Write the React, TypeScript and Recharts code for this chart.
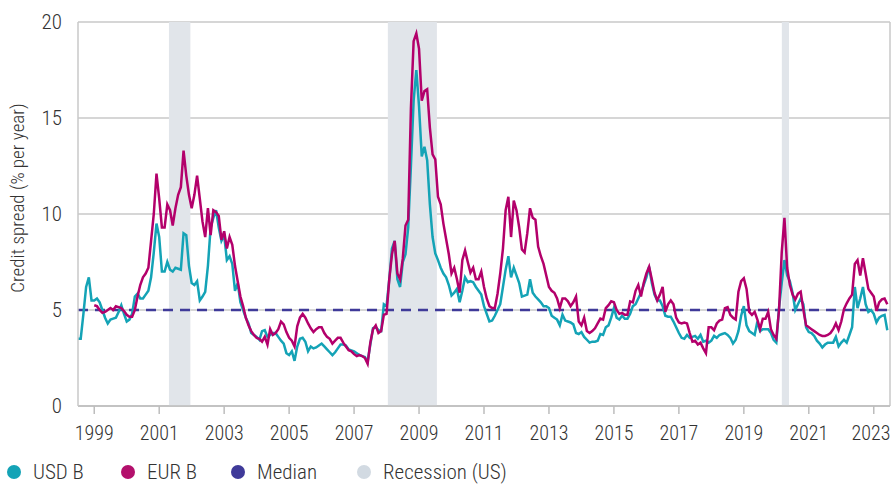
import { LineChart, Line, XAxis, YAxis, CartesianGrid, ReferenceArea, ReferenceLine } from 'recharts';

const FONT = "'Roboto Condensed', Roboto, 'Noto Sans', sans-serif";

// monthly, starting Jul 1998
const usdB = [
  3.5, 3.5, 4.8, 6.2, 6.7, 5.5,
  5.5, 5.6, 5.4, 5.0, 4.6, 4.3, 4.5, 4.55, 4.6, 4.9, 5.25, 4.8,
  4.4, 4.5, 4.8, 5.7, 5.85, 5.6, 5.6, 5.8, 6.0, 6.7, 8.0, 9.5,
  8.8, 7.0, 7.0, 7.5, 7.1, 7.0, 7.2, 7.15, 7.1, 9.0, 8.9, 7.3,
  6.4, 6.3, 6.5, 5.5, 5.7, 5.95, 7.3, 9.3, 9.8, 10.2, 9.3, 8.6,
  8.9, 7.6, 7.8, 7.4, 6.0, 6.4, 5.4, 5.0, 4.6, 4.3, 3.8, 3.7,
  3.6, 3.45, 3.9, 3.95, 3.6, 3.7, 3.8, 3.8, 3.6, 3.4, 3.25, 2.75,
  2.65, 2.85, 2.35, 3.1, 3.5, 3.55, 3.35, 2.85, 3.1, 3.0, 3.05, 3.15,
  3.25, 3.1, 2.95, 2.8, 2.65, 2.8, 3.0, 3.2, 3.2, 3.15, 2.95, 2.9,
  2.85, 2.75, 2.65, 2.6, 2.55, 2.3, 3.2, 4.05, 4.1, 3.95, 3.9, 5.3,
  5.2, 6.6, 8.2, 8.6, 6.6, 6.2, 7.5, 7.9, 9.3, 12.5, 15.9, 17.5,
  15.6, 13.0, 13.5, 12.8, 10.5, 8.8, 7.95, 7.6, 7.2, 6.9, 6.7, 6.3,
  5.75, 5.9, 6.1, 5.4, 6.0, 6.7, 6.45, 6.5, 6.45, 6.2, 6.0, 5.8,
  5.2, 4.8, 4.4, 4.45, 4.7, 5.0, 5.3, 6.2, 7.1, 7.8, 6.7, 7.2,
  6.8, 6.4, 5.7, 5.75, 5.8, 6.6, 5.9, 5.7, 5.55, 5.4, 5.2, 5.2,
  5.1, 4.7, 4.6, 4.5, 4.2, 4.75, 4.45, 4.4, 4.35, 4.25, 3.8, 3.75,
  3.85, 3.6, 3.45, 3.3, 3.35, 3.35, 3.4, 3.75, 3.7, 4.1, 4.2, 4.6,
  5.1, 4.6, 4.5, 4.7, 4.55, 4.55, 4.8, 5.2, 5.3, 5.6, 5.9, 6.3,
  6.7, 7.25, 6.4, 5.8, 5.5, 5.5, 5.2, 4.7, 4.65, 4.65, 4.4, 4.1,
  3.8, 3.55, 3.5, 3.7, 3.55, 3.6, 3.65, 3.5, 3.7, 3.35, 3.4, 3.3,
  3.4, 3.65, 3.55, 3.7, 3.75, 3.8, 3.7, 3.55, 3.25, 3.45, 3.9, 4.7,
  5.2, 4.2, 3.9, 3.8, 3.7, 4.4, 3.9, 4.0, 4.0, 4.0, 3.8, 3.45,
  3.3, 5.1, 6.4, 7.6, 6.8, 6.5, 5.9, 5.0, 5.3, 5.6, 5.3, 4.1,
  3.85, 3.8, 3.65, 3.4, 3.25, 3.05, 3.2, 3.3, 3.3, 3.3, 3.6, 3.1,
  3.3, 3.45, 3.3, 3.7, 4.1, 6.2, 5.1, 5.6, 6.2, 5.3, 4.9, 5.0,
  4.8, 4.35, 4.6, 4.7, 4.75, 3.95,
];

// monthly, starting Jan 1999
const eurB = [
  5.25, 5.2, 5.0, 4.85, 4.9, 5.0, 5.1, 5.0, 5.2, 5.15, 5.1, 4.95,
  4.75, 4.65, 4.65, 5.0, 5.7, 6.3, 6.7, 6.9, 7.2, 8.6, 10.0, 12.1,
  10.8, 9.3, 9.3, 10.5, 10.2, 9.4, 10.3, 11.0, 11.4, 13.3, 12.0, 11.0,
  10.3, 11.0, 12.0, 10.8, 9.6, 8.8, 10.3, 8.9, 10.2, 10.1, 9.9, 8.65,
  9.1, 8.2, 8.8, 8.4, 7.3, 6.5, 5.7, 5.2, 4.6, 4.2, 3.9, 3.7,
  3.55, 3.5, 3.35, 3.6, 3.2, 4.0, 3.7, 3.8, 4.0, 4.4, 4.25, 3.85,
  3.55, 3.4, 3.1, 4.15, 4.6, 4.8, 4.6, 4.3, 4.05, 3.85, 4.0, 4.1,
  4.1, 3.8, 3.6, 3.5, 3.25, 3.4, 3.55, 3.55, 3.3, 3.1, 2.9, 2.85,
  2.7, 2.6, 2.65, 2.6, 2.5, 2.2, 3.3, 4.0, 4.2, 3.8, 3.9, 4.75,
  4.8, 6.6, 7.9, 8.6, 6.9, 6.6, 7.7, 9.4, 9.7, 15.5, 19.0, 19.4,
  18.6, 15.9, 16.4, 16.5, 14.5, 13.1, 12.85, 10.9, 10.5, 9.5, 8.7, 7.9,
  6.9, 7.2, 6.6, 5.9, 7.6, 8.1, 7.5, 6.95, 7.2, 6.6, 6.6, 7.0,
  6.2, 5.6, 5.2, 5.1, 5.1, 5.85, 6.9, 8.2, 10.2, 10.9, 8.8, 10.7,
  10.2, 9.3, 8.15, 8.0, 9.0, 10.3, 9.8, 9.7, 8.3, 7.8, 7.4, 6.8,
  6.2, 6.0, 5.9, 5.6, 5.1, 5.6, 5.6, 5.45, 5.2, 5.4, 5.7, 4.4,
  4.2, 4.6, 3.9, 3.8, 3.9, 4.05, 4.3, 4.55, 4.5, 5.1, 5.25, 5.45,
  5.4, 5.0, 4.8, 4.85, 4.75, 4.75, 5.45, 5.4, 6.0, 6.3, 5.7, 6.4,
  6.9, 7.25, 6.6, 5.9, 5.5, 5.8, 6.2, 4.9, 5.3, 5.5, 5.3, 4.6,
  4.35, 4.3, 4.35, 4.3, 3.8, 3.35, 3.4, 3.2, 3.3, 3.0, 2.75, 4.1,
  4.1, 3.95, 4.3, 4.45, 4.5, 5.1, 5.15, 4.75, 4.6, 4.5, 5.95, 6.5,
  6.65, 6.1, 4.9, 4.75, 4.9, 4.5, 4.0, 4.55, 4.55, 4.9, 4.0, 3.7,
  3.5, 5.0, 8.0, 9.8, 7.2, 6.3, 5.8, 5.55, 5.85, 5.95, 5.0, 4.2,
  4.1, 4.0, 3.9, 3.8, 3.7, 3.65, 3.65, 3.7, 3.8, 4.0, 4.3, 3.95,
  4.4, 5.05, 5.35, 5.6, 5.8, 7.4, 7.6, 6.8, 7.7, 6.9, 6.1, 5.9,
  5.7, 4.95, 5.4, 5.55, 5.6, 5.3,
];

const median = 5.0;
const recessions = [
  [2001.3, 2001.96],
  [2008.04, 2009.55],
  [2020.17, 2020.39],
];
const yearTicks = [1999, 2001, 2003, 2005, 2007, 2009, 2011, 2013, 2015, 2017, 2019, 2021, 2023];
const yTicks = [0, 5, 10, 15, 20];

const data = usdB.map((v, i) => ({
  t: 1998.5 + i / 12,
  usd: v,
  eur: i >= 6 ? eurB[i - 6] : null,
}));

const legendItems = [
  { label: 'USD B', color: '#14A3B6', left: 7 },
  { label: 'EUR B', color: '#B3106C', left: 121 },
  { label: 'Median', color: '#3F3A99', left: 231 },
  { label: 'Recession (US)', color: '#D2DAE2', left: 357 },
];

const App = () => {
  return (
    <div style={{ position: 'absolute', left: 0, top: 0, width: 891, height: 484, background: '#fff', fontFamily: FONT }}>
      <LineChart width={891} height={452} data={data} margin={{ top: 22, right: 1, bottom: 0, left: 0 }}>
        {recessions.map(([a, b]) => (
          <ReferenceArea key={a} x1={a} x2={b} y1={0} y2={20} fill="#E1E5EA" fillOpacity={1} stroke="none" ifOverflow="hidden" />
        ))}
        <CartesianGrid vertical={false} stroke="#C8C8C8" strokeWidth={1.5} />
        <XAxis
          dataKey="t"
          type="number"
          domain={[1998.5, 2023.5]}
          ticks={yearTicks}
          allowDataOverflow
          stroke="#BDBDBD"
          strokeWidth={1.5}
          tickSize={8}
          tickMargin={12}
          height={46}
          tick={{ fill: '#333', fontSize: 20, fontFamily: FONT, fontWeight: 300 }}
        />
        <YAxis
          type="number"
          domain={[0, 20]}
          ticks={yTicks}
          width={78}
          stroke="#C8C8C8"
          strokeWidth={1.5}
          tickLine={false}
          tickSize={8}
          tickMargin={8}
          tick={{ fill: '#333', fontSize: 21, fontFamily: FONT, fontWeight: 300 }}
          label={{
            content: () => (
              <text x={17} y={198} transform="rotate(-90 17 198)" textAnchor="middle" dominantBaseline="central" fill="#333" fontSize={19} fontWeight={300} fontFamily={FONT}>
                Credit spread (% per year)
              </text>
            ),
          }}
        />
        <ReferenceLine x={2023.5} stroke="#C8C8C8" strokeWidth={1.5} />
        <ReferenceLine y={median} stroke="#3F3A99" strokeWidth={2.5} strokeDasharray="10 7" />
        <Line type="linear" dataKey="usd" stroke="#14A3B6" strokeWidth={2.5} dot={false} isAnimationActive={false} />
        <Line type="linear" dataKey="eur" stroke="#B3006B" strokeWidth={2.5} dot={false} connectNulls={false} isAnimationActive={false} />
      </LineChart>
      <div style={{ position: 'absolute', top: 459, left: 0, height: 26, width: 891 }}>
        {legendItems.map((it) => (
          <div key={it.label} style={{ position: 'absolute', left: it.left, top: 0, display: 'flex', alignItems: 'center', height: 26 }}>
            <span style={{ width: 14, height: 14, borderRadius: 7, background: it.color, display: 'inline-block', marginRight: 12 }} />
            <span style={{ fontSize: 21, fontWeight: 300, color: '#333', lineHeight: '26px' }}>{it.label}</span>
          </div>
        ))}
      </div>
    </div>
  );
};

export default App;
